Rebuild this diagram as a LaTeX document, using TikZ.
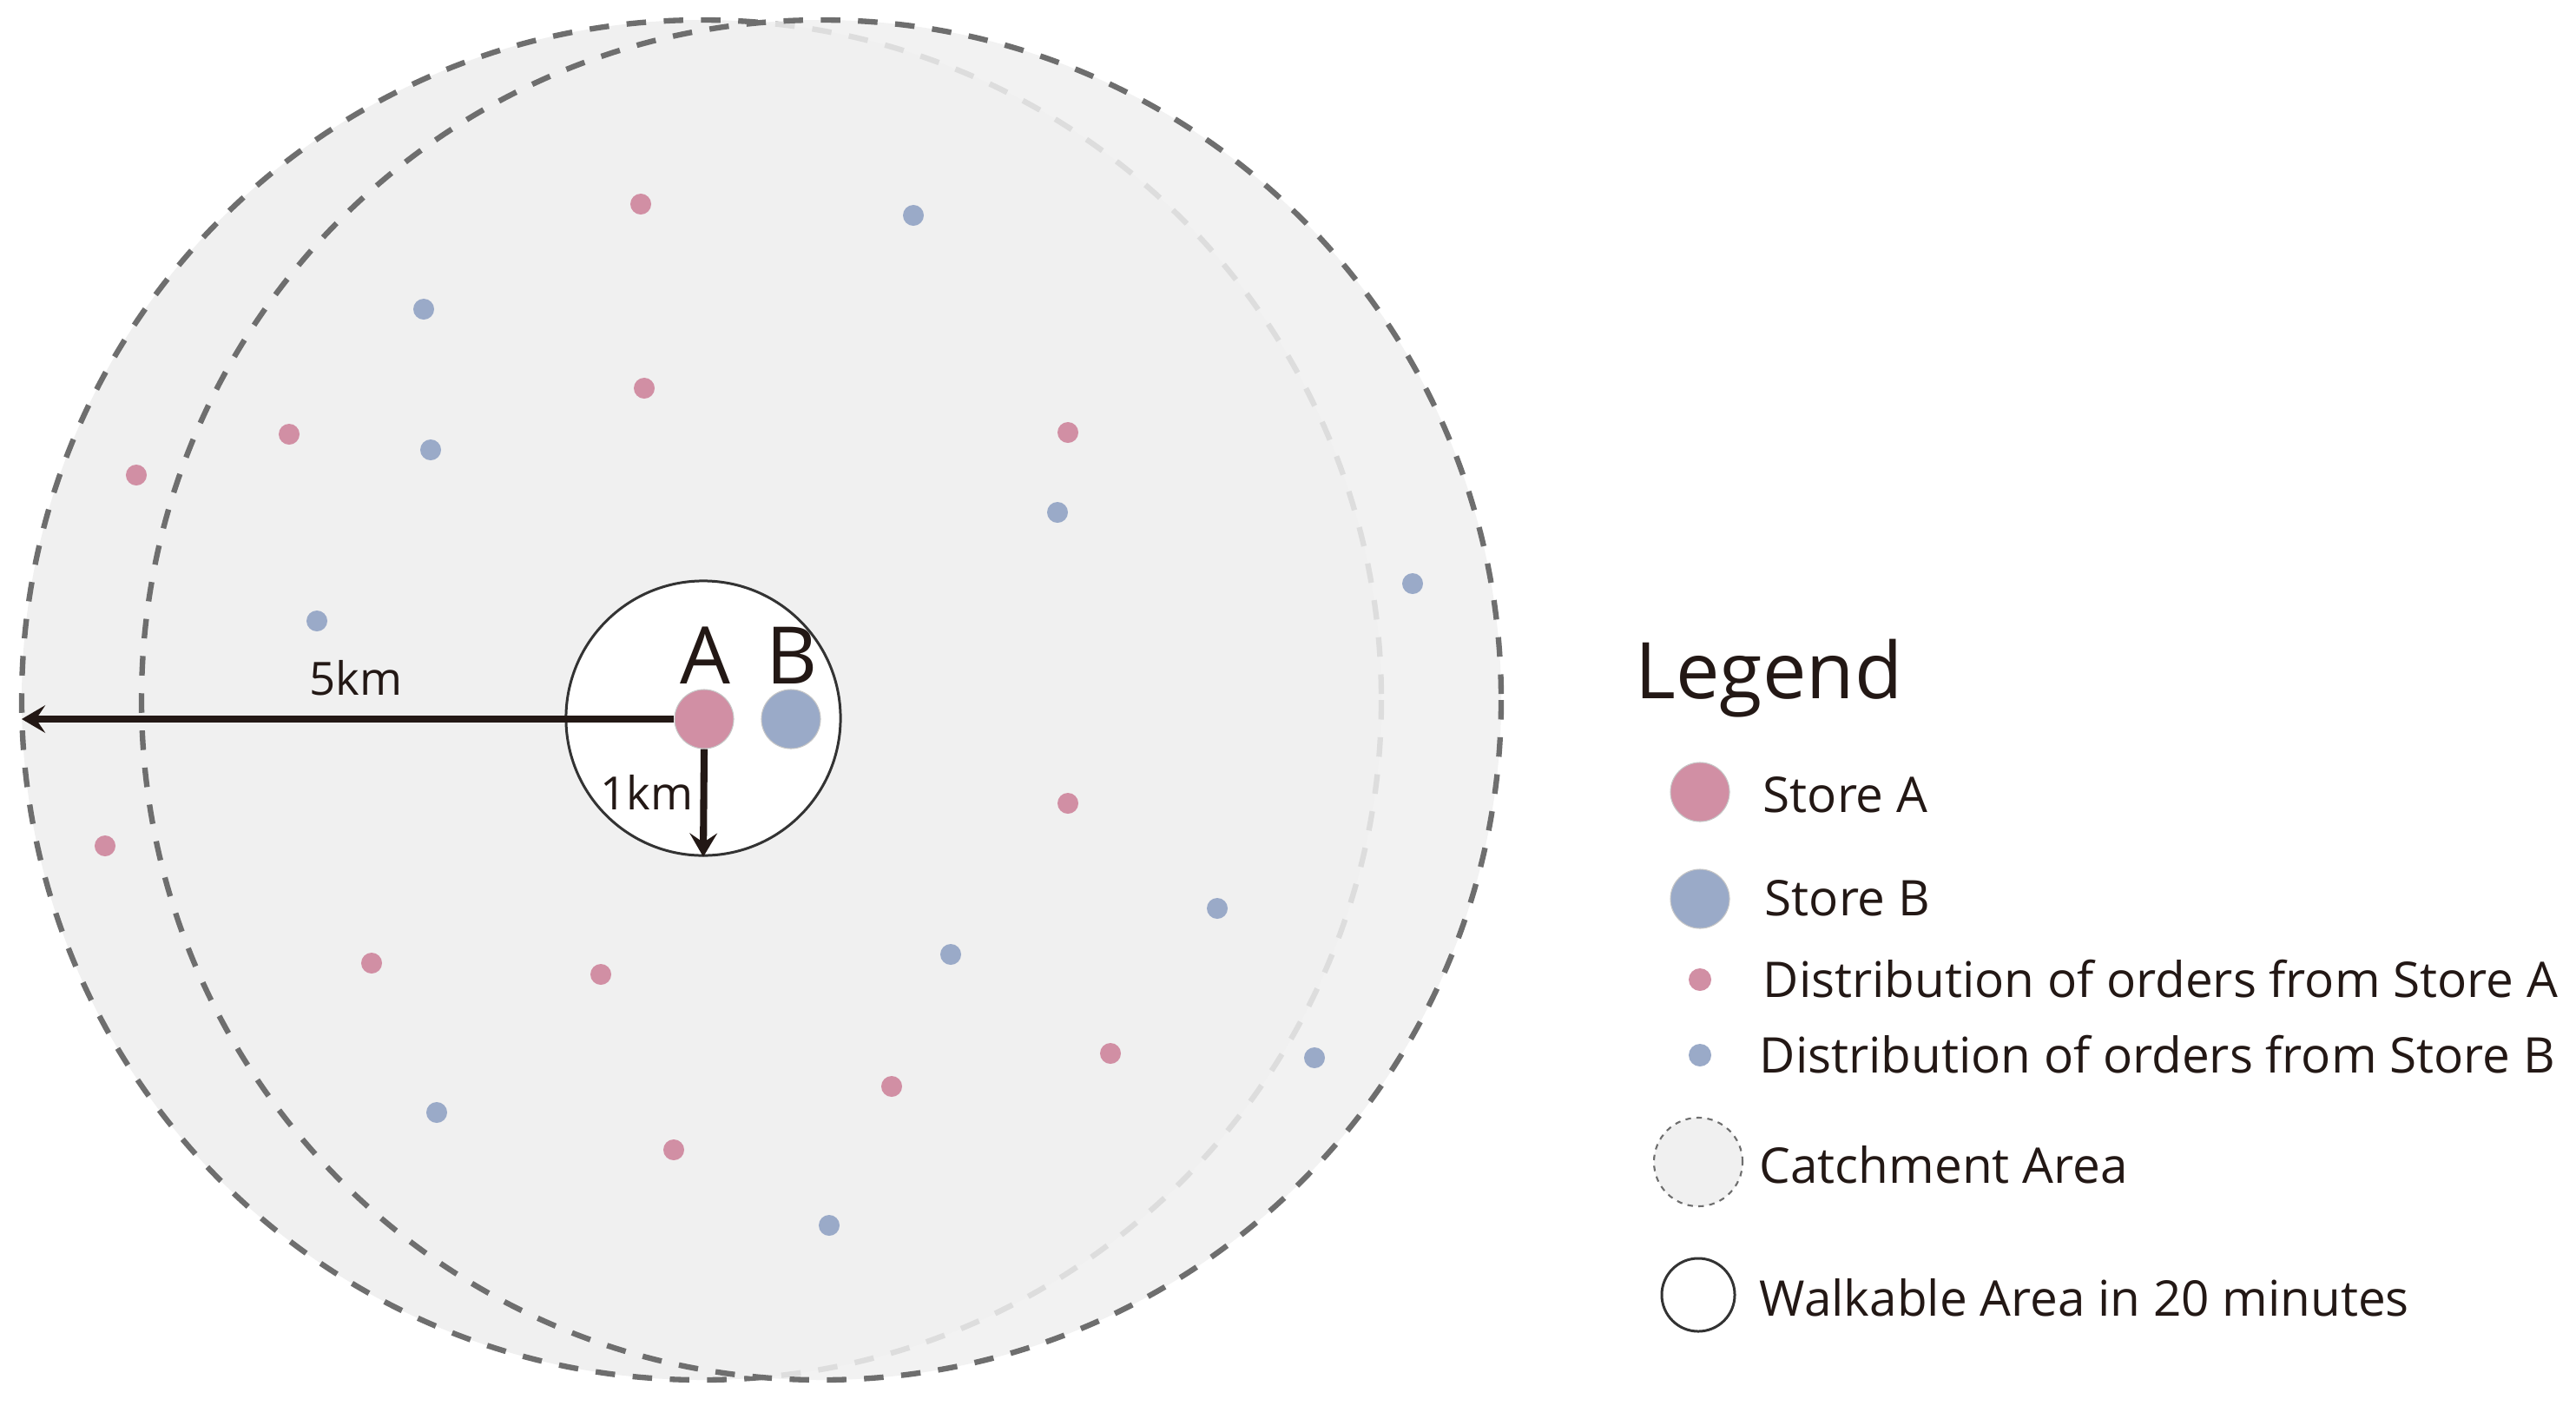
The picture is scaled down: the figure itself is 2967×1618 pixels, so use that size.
\documentclass[tikz,border=0pt]{standalone}
\usepackage{fontspec}
\setmainfont{Open Sans}
\usetikzlibrary{arrows.meta}
\definecolor{fillgray}{HTML}{F0F0F0}
\definecolor{dashgray}{HTML}{6E6E6E}
\definecolor{ink}{HTML}{231815}
\definecolor{pinkA}{HTML}{D18FA4}
\definecolor{blueB}{HTML}{9AAAC8}
\definecolor{ringgray}{HTML}{333333}
\begin{document}
\begin{tikzpicture}[x=0.01cm, y=-0.01cm,
  catchment/.style={fill=fillgray, draw=dashgray, line width=1.8pt, dash pattern=on 6.4pt off 5.8pt},
  store/.style={circle, inner sep=0pt, minimum size=0.68cm, draw=gray!45, line width=0.3pt},
  orderdot/.style={circle, inner sep=0pt, minimum size=0.24cm},
  legdot/.style={circle, inner sep=0pt, minimum size=0.26cm},
  arr/.style={draw=ink, line width=2.3pt, -{Stealth[length=7.7pt, width=9pt, inset=3pt]}},
  bigletter/.style={font=\fontsize{26pt}{30pt}\selectfont, text=ink, anchor=base, inner sep=0pt},
  kmlabel/.style={font=\fontsize{15pt}{18pt}\selectfont, text=ink, anchor=base west, inner sep=0pt},
  legtext/.style={font=\fontsize{16.1pt}{19pt}\selectfont, text=ink, anchor=base west, inner sep=0pt}
]
\useasboundingbox (0,0) rectangle (2967,1618);
\fill[white] (0,0) rectangle (2967,1618);

% catchment areas
\draw[catchment] (808,806) circle[radius=783];
\draw[catchment, fill opacity=0.86] (946,806) circle[radius=783];

% order dots, store A
\foreach \p [count=\i] in {(738,235),(742,447),(333,500),(157,547),(1230,498),(1230,925),(121,974),(428,1109),(692,1122),(1279,1213),(1027,1251),(776,1324)}
  \node[orderdot, fill=pinkA] (pa\i) at \p {};
% order dots, store B
\foreach \p [count=\i] in {(1052,248),(488,356),(496,518),(1218,590),(1627,672),(365,715),(1402,1046),(1095,1099),(1514,1218),(503,1281),(955,1411)}
  \node[orderdot, fill=blueB] (pb\i) at \p {};

% walkable area
\node[circle, draw=ringgray, line width=0.85pt, fill=white, minimum size=3.16cm, inner sep=0pt] (walk) at (810,827) {};

% stores
\node[store, fill=pinkA] (sa) at (811,828) {};
\node[store, fill=blueB] (sb) at (911,828) {};
\node[bigletter] (la) at (812,787) {A};
\node[bigletter] (lb) at (912,787) {B};

% radii arrows
\coordinate (w5) at (25,828);
\draw[arr] (sa.west) -- (w5);
\draw[arr] (sa.south) -- (walk.south);
\node[kmlabel] (k5) at (356,800) {5km};
\node[kmlabel] (k1) at (691,932) {1km};

% legend
\node[font=\fontsize{25.6pt}{30pt}\selectfont, text=ink, anchor=base west, inner sep=0pt] (legtitle) at (1883,804) {Legend};
\node[store, fill=pinkA] (lgA) at (1958,912) {};
\node[legtext] (tA) at (2030,935) {Store A};
\node[store, fill=blueB] (lgB) at (1958,1035) {};
\node[legtext] (tB) at (2032,1054) {Store B};
\node[legdot, fill=pinkA] (lgpa) at (1958,1128) {};
\node[legtext] (tpa) at (2030,1148) {Distribution of orders from Store A};
\node[legdot, fill=blueB] (lgpb) at (1958,1215) {};
\node[legtext] (tpb) at (2026,1235) {Distribution of orders from Store B};
\node[circle, fill=fillgray, draw=dashgray, line width=0.6pt, dash pattern=on 1.8pt off 1.8pt, minimum size=1.02cm, inner sep=0pt] (lgc) at (1956,1338) {};
\node[legtext] (tc) at (2026,1362) {Catchment Area};
\node[circle, draw=ringgray, line width=0.85pt, fill=white, minimum size=0.84cm, inner sep=0pt] (lgw) at (1956,1491) {};
\node[legtext] (tw) at (2026,1515) {Walkable Area in 20 minutes};
\end{tikzpicture}
\end{document}
